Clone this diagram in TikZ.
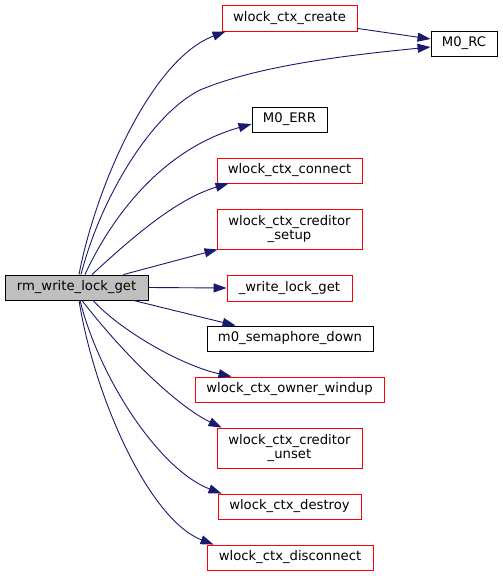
\documentclass[tikz,border=0pt]{standalone}
\usepackage{fontspec}
\setmainfont{DejaVu Sans}
\usetikzlibrary{arrows.meta}
\definecolor{edgeblue}{HTML}{191970}
\tikzset{
  fn/.style={draw=red, line width=0.9pt, fill=white, inner sep=0pt, align=center,
    font=\fontsize{13.2}{14.5}\selectfont},
  fnblack/.style={fn, draw=black},
  fnmain/.style={fn, draw=black, fill=black!25},
  call/.style={draw=edgeblue, line width=0.9pt, -{Triangle[length=13pt,width=9pt]}, fill=none},
}
\begin{document}
\begin{tikzpicture}[x=1pt,y=-1pt]
\useasboundingbox[fill=white] (0,0) rectangle (503,576);
\node[fnmain, minimum width=143pt, minimum height=25pt] (main) at (76.5,287.5) {rm\_write\_lock\_get};
\node[fn, minimum width=135pt, minimum height=26pt] (create) at (289.5,18) {wlock\_ctx\_create};
\node[fnblack, minimum width=66pt, minimum height=25pt] (rc) at (464,43.5) {M0\_RC};
\node[fnblack, minimum width=75pt, minimum height=25pt] (err) at (289.5,119.5) {M0\_ERR};
\node[fn, minimum width=145pt, minimum height=25pt] (connect) at (289.5,170.5) {wlock\_ctx\_connect};
\node[fn, minimum width=145pt, minimum height=40pt] (setup) at (289.5,229) {wlock\_ctx\_creditor\\\_setup};
\node[fn, minimum width=125pt, minimum height=26pt] (wlg) at (289.5,288) {\_write\_lock\_get};
\node[fnblack, minimum width=166pt, minimum height=25pt] (sem) at (290,338.5) {m0\_semaphore\_down};
\node[fn, minimum width=189pt, minimum height=25pt] (windup) at (289.5,389.5) {wlock\_ctx\_owner\_windup};
\node[fn, minimum width=145pt, minimum height=40pt] (unset) at (289.5,448) {wlock\_ctx\_creditor\\\_unset};
\node[fn, minimum width=143pt, minimum height=25pt] (destroy) at (289.5,506.5) {wlock\_ctx\_destroy};
\node[fn, minimum width=166pt, minimum height=25pt] (disconnect) at (290,557.5) {wlock\_ctx\_disconnect};

\draw[call] ([xshift=2.5pt]main.north) .. controls (95,190) and (150,60) .. ([xshift=4pt]create.south west);
\draw[call] ([xshift=4.5pt]main.north) .. controls (100,200) and (150,115) .. (200,90) .. controls (260,65) and (350,55) .. ([yshift=-3.5pt]rc.west);
\draw[call] ([xshift=8.5pt]main.north) .. controls (110,220) and (160,150) .. ([yshift=-4.5pt]err.west);
\draw[call] ([xshift=15.5pt]main.north) .. controls (140,230) and (180,198) .. ([xshift=12pt]connect.south west);
\draw[call] ([xshift=-25pt]main.north east) -- ([xshift=1pt]setup.south west);
\draw[call] (main.east) -- (wlg.west);
\draw[call] ([xshift=-15pt]main.south east) -- ([xshift=29pt]sem.north west);
\draw[call] ([xshift=16.5pt]main.south) .. controls (120,330) and (180,365) .. ([xshift=37pt]windup.north west);
\draw[call] ([xshift=5.5pt]main.south) .. controls (120,350) and (175,405) .. ([xshift=5pt]unset.north west);
\draw[call] ([xshift=3.5pt]main.south) .. controls (100,380) and (160,470) .. ([xshift=4pt]destroy.north west);
\draw[call] ([xshift=2.5pt]main.south) .. controls (95,400) and (150,520) .. ([xshift=7pt]disconnect.north west);
\draw[call] ([yshift=3pt]create.south east) -- ([yshift=4.5pt]rc.west);
\end{tikzpicture}
\end{document}
